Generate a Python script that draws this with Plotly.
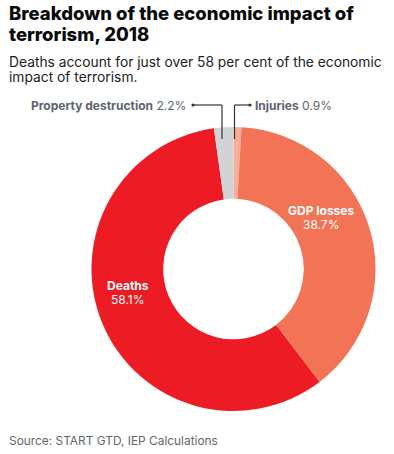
import plotly.graph_objects as go

W, H = 394, 454

categories = ["Injuries", "GDP losses", "Deaths", "Property destruction"]
values = [0.9, 38.7, 58.1, 2.2]
colors = ["#F8AE98", "#F37356", "#ED1C24", "#D2D3D5"]

title_lines = ["Breakdown of the economic impact of", "terrorism, 2018"]
subtitle_lines = ["Deaths account for just over 58 per cent of the economic",
                  "impact of terrorism."]
source = "Source: START GTD, IEP Calculations"


def px(x):
    return x / W


def py(y):
    return 1 - y / H


cx, cy, r = 233.5, 269, 142

fig = go.Figure(go.Pie(
    labels=categories, values=values, sort=False, direction="clockwise",
    rotation=0, hole=0.495,
    marker=dict(colors=colors, line=dict(width=0)),
    textinfo="none", hoverinfo="label+percent", showlegend=False,
    domain=dict(x=[px(cx - r), px(cx + r)], y=[py(cy + r), py(cy - r)]),
))

ann = []
# Title
for i, t in enumerate(title_lines):
    ann.append(dict(text=t, x=px(7), y=py(13 + i * 21), xanchor="left",
                    yanchor="middle", showarrow=False,
                    font=dict(family="Inter", size=18.5, weight=800, color="#0A0A0A")))
for i, t in enumerate(subtitle_lines):
    ann.append(dict(text=t, x=px(7), y=py(62 + i * 15), xanchor="left",
                    yanchor="middle", showarrow=False,
                    font=dict(family="Inter", size=13.8, color="#222222")))
ann.append(dict(text=source, x=px(7), y=py(440), xanchor="left", yanchor="middle",
                showarrow=False, font=dict(family="Inter", size=11.9, color="#666666")))

# in-slice labels
inside = {"GDP losses": (321, 210), "Deaths": (127.5, 285)}
for cat, val in zip(categories, values):
    if cat in inside:
        x, y = inside[cat]
        ann.append(dict(text="<b>%s</b>" % cat, x=px(x), y=py(y), xanchor="center",
                        yanchor="middle", showarrow=False,
                        font=dict(family="Inter", size=12, color="white")))
        ann.append(dict(text="%.1f%%" % val, x=px(x), y=py(y + 14), xanchor="center",
                        yanchor="middle", showarrow=False,
                        font=dict(family="Inter", size=12, color="white")))

# outside labels
lab_col = "#5A6470"
ann.append(dict(text="<b>%s</b> %.1f%%" % (categories[3], values[3]), x=px(188), y=py(105),
                xanchor="right", yanchor="middle", showarrow=False,
                font=dict(family="Inter", size=12, color=lab_col)))
ann.append(dict(text="<b>%s</b> %.1f%%" % (categories[0], values[0]), x=px(253), y=py(105),
                xanchor="left", yanchor="middle", showarrow=False,
                font=dict(family="Inter", size=12, color=lab_col)))

line_col = "#333333"
shapes = []
# property destruction leader
shapes.append(dict(type="line", xref="paper", yref="paper", x0=px(193), y0=py(105),
                   x1=px(222), y1=py(105), line=dict(color=line_col, width=1.2)))
shapes.append(dict(type="line", xref="paper", yref="paper", x0=px(222), y0=py(105),
                   x1=px(222), y1=py(139), line=dict(color=line_col, width=1.2)))
# injuries leader
shapes.append(dict(type="line", xref="paper", yref="paper", x0=px(234.5), y0=py(105),
                   x1=px(250), y1=py(105), line=dict(color=line_col, width=1.2)))
shapes.append(dict(type="line", xref="paper", yref="paper", x0=px(234.5), y0=py(105),
                   x1=px(234.5), y1=py(139), line=dict(color=line_col, width=1.2)))
for x in (193, 250):
    shapes.append(dict(type="circle", xref="paper", yref="paper", x0=px(x - 1.6),
                       x1=px(x + 1.6), y0=py(105 + 1.6), y1=py(105 - 1.6),
                       fillcolor=line_col, line=dict(width=0)))

fig.update_layout(width=W, height=H, margin=dict(l=0, r=0, t=0, b=0),
                  paper_bgcolor="white", plot_bgcolor="white",
                  annotations=ann, shapes=shapes)
fig.write_html("out.html", config={"displayModeBar": False},
               post_script="document.body.style.margin='0';document.body.style.overflow='hidden';")
